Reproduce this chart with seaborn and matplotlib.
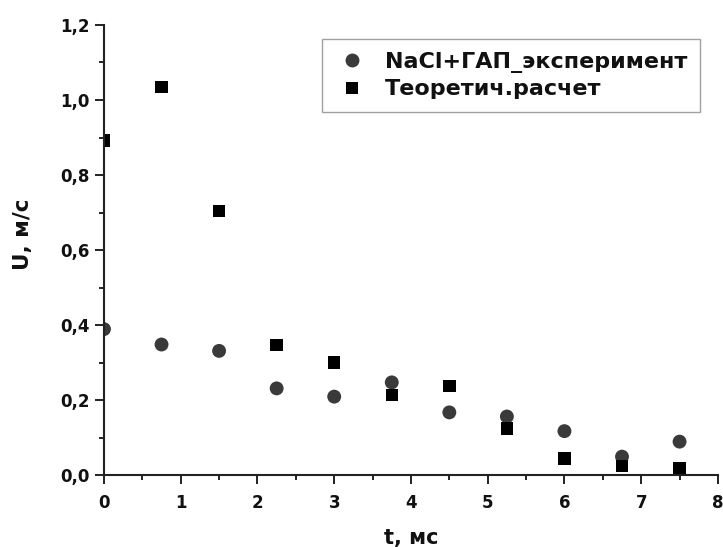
import matplotlib
matplotlib.use("Agg")
import matplotlib.pyplot as plt
import seaborn as sns
import pandas as pd
from matplotlib.ticker import FuncFormatter, MultipleLocator
from matplotlib.lines import Line2D

t_values = [0, 0.75, 1.5, 2.25, 3, 3.75, 4.5, 5.25, 6, 6.75, 7.5]
u_experiment = [0.389, 0.348, 0.331, 0.231, 0.209, 0.247, 0.167, 0.156, 0.117, 0.049, 0.089]
u_theory = [0.892, 1.035, 0.704, 0.347, 0.300, 0.213, 0.237, 0.124, 0.044, 0.024, 0.019]
series_names = ["NaCl+ГАП_эксперимент", "Теоретич.расчет"]

df = pd.concat([
    pd.DataFrame({"t": t_values, "U": u_experiment, "series": series_names[0]}),
    pd.DataFrame({"t": t_values, "U": u_theory, "series": series_names[1]}),
], ignore_index=True)

sns.set_style("ticks")
plt.rcParams["font.family"] = ["DejaVu Sans"]
plt.rcParams["font.weight"] = "bold"
plt.rcParams["text.color"] = "#111111"
plt.rcParams["axes.labelcolor"] = "#111111"
plt.rcParams["xtick.color"] = "#222222"
plt.rcParams["ytick.color"] = "#222222"
plt.rcParams["xtick.labelcolor"] = "#111111"
plt.rcParams["ytick.labelcolor"] = "#111111"

colors = {series_names[0]: "#3a3a3a", series_names[1]: "#000000"}
fig = plt.figure(figsize=(7.23, 5.47), dpi=100)
ax = fig.add_axes([0.1438, 0.1316, 0.8492, 0.8227])

sns.scatterplot(data=df, x="t", y="U", hue="series", style="series",
                palette=colors,
                markers={series_names[0]: "o", series_names[1]: "s"},
                s=100, linewidth=0, ax=ax, zorder=3, legend=False)
coll = ax.collections[0]
coll.set_sizes([100 if s == series_names[0] else 80 for s in df["series"]])
coll.set_clip_on(True)
coll.set_clip_path(ax.patch)

ax.set_xlim(0, 8)
ax.set_ylim(0, 1.2)
ax.xaxis.set_major_locator(MultipleLocator(1))
ax.xaxis.set_minor_locator(MultipleLocator(0.5))
ax.yaxis.set_major_locator(MultipleLocator(0.2))
ax.yaxis.set_minor_locator(MultipleLocator(0.1))
ax.yaxis.set_major_formatter(FuncFormatter(lambda v, p: f"{v:.1f}".replace(".", ",")))
ax.xaxis.set_major_formatter(FuncFormatter(lambda v, p: f"{v:.0f}"))

for s in ["top", "right"]:
    ax.spines[s].set_visible(False)
for s in ["left", "bottom"]:
    ax.spines[s].set_linewidth(1.5)
    ax.spines[s].set_color("#222222")
    ax.spines[s].set_zorder(4)
ax.tick_params(which="major", direction="out", length=6.5, width=1.4, labelsize=12, pad=4)
ax.tick_params(axis="x", which="major", pad=7)
ax.tick_params(which="minor", direction="out", length=3.5, width=1.4)
for lab in ax.get_xticklabels() + ax.get_yticklabels():
    lab.set_fontweight("bold")

ax.set_xlabel("t, мс", fontsize=15, fontweight="bold", labelpad=12)
ax.set_ylabel("U, м/с", fontsize=15.5, fontweight="bold")
ax.yaxis.set_label_coords(-0.116, 0.536)

handles = [
    Line2D([], [], linestyle="none", marker="o", markersize=10, color=colors[series_names[0]], markeredgewidth=0),
    Line2D([], [], linestyle="none", marker="s", markersize=8.5, color=colors[series_names[1]], markeredgewidth=0),
]
leg = ax.legend(handles, series_names, loc="upper right", bbox_to_anchor=(0.97, 0.968),
                frameon=True, fancybox=False, edgecolor="#888888",
                prop={"weight": "bold", "size": 16},
                handletextpad=0.7, borderpad=0.55, labelspacing=0.3, handlelength=1.6,
                borderaxespad=0)
leg.get_frame().set_linewidth(1.0)

fig.savefig("out.png", dpi=100)
